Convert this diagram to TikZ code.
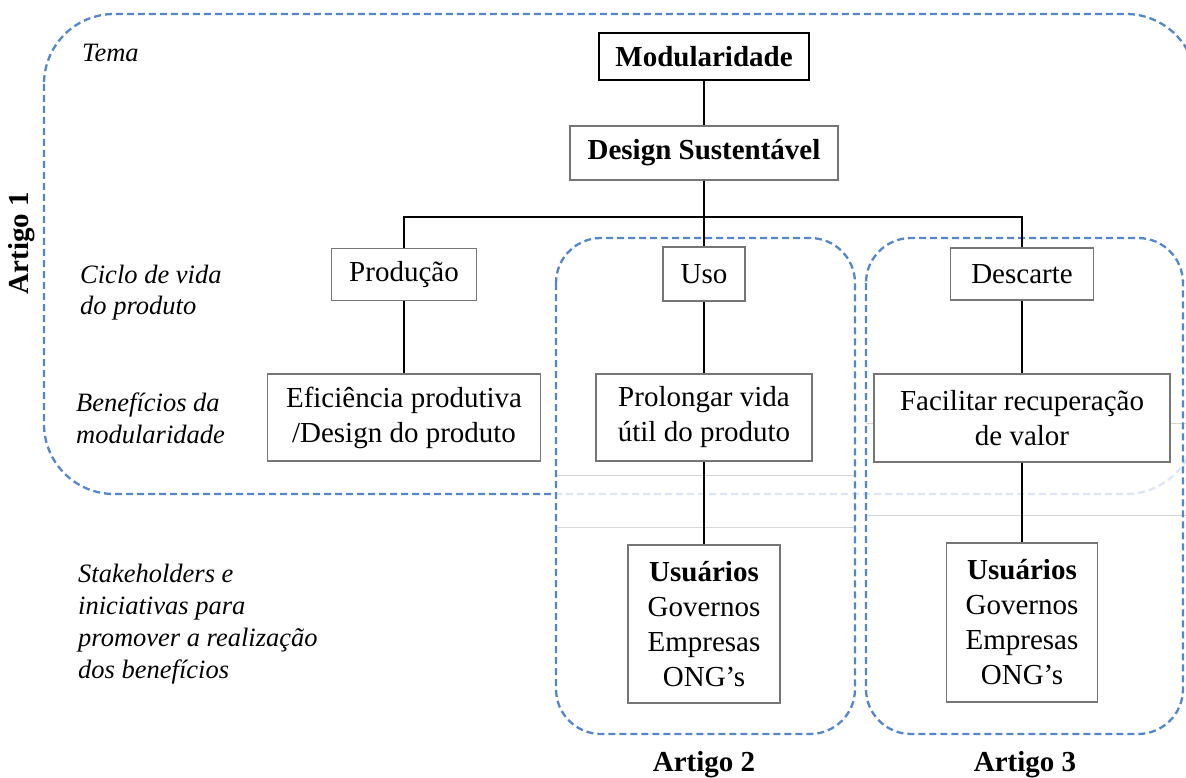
\documentclass[tikz,border=0pt]{standalone}
\usepackage{fontspec}
\setmainfont{Liberation Serif}
\definecolor{artblue}{RGB}{84,134,206}
\definecolor{boxgray}{RGB}{118,118,118}
\definecolor{faintline}{RGB}{214,214,214}
\newcommand\mainsz{\fontsize{29}{35}\selectfont}
\newcommand\sidesz{\fontsize{26.5}{32}\selectfont}
\tikzset{
  artframe/.style={draw=artblue, line width=2.3pt, dash pattern=on 7pt off 4pt},
  card/.style={draw=boxgray, line width=1.3pt, fill=white, align=center,
               inner sep=0pt, font=\mainsz},
  link/.style={draw=black, line width=1.1pt},
  side/.style={anchor=base west, inner sep=0pt, font=\sidesz\itshape},
  artlabel/.style={inner sep=0pt, font=\mainsz\bfseries},
  faint/.style={draw=faintline, line width=1pt},
}
\begin{document}
\begin{tikzpicture}[x=1pt,y=-1pt]
\useasboundingbox (0,0) rectangle (1186,778);

% Artigo 1 frame
\draw[artframe, rounded corners=70pt] (44,14) rectangle (1196,494);
% washed-out band over the lower right of the frame
\fill[white, opacity=0.8] (556,412) rectangle (1200,540);
\draw[faint] (556,475) -- (855,475);
\draw[faint] (556,527) -- (855,527);
\draw[faint] (866,423) -- (1186,423);
\draw[faint] (866,515) -- (1186,515);

% Artigo 2 and Artigo 3 frames
\draw[artframe, rounded corners=45pt] (556,238) rectangle (855,734);
\draw[artframe, rounded corners=45pt] (866,238) rectangle (1183,734);

% row labels
\node[side] (tema) at (82,62) {Tema};
\node[side] (ciclo) at (80,283) {\begin{tabular}[t]{@{}l@{}}Ciclo de vida\\do produto\end{tabular}};
\node[side] (benef) at (76,411) {\begin{tabular}[t]{@{}l@{}}Benefícios da\\modularidade\end{tabular}};
\node[side] (stake) at (78,582) {\begin{tabular}[t]{@{}l@{}}Stakeholders e\\iniciativas para\\promover a realização\\dos benefícios\end{tabular}};

% article labels
\node[artlabel, rotate=90] (art1) at (22,243) {Artigo 1};
\node[artlabel, anchor=base] (art2) at (704,771) {Artigo 2};
\node[artlabel, anchor=base] (art3) at (1025,771) {Artigo 3};

% boxes
\node[card, draw=black, line width=1.6pt, minimum width=210pt, minimum height=47pt] (mod) at (704,56.5) {\textbf{Modularidade}};
\node[card, minimum width=268pt, minimum height=54pt] (design) at (704,153) {\textbf{Design Sustentável}};
\node[card, minimum width=145pt, minimum height=52pt] (prod) at (404,274.5) {Produção};
\node[card, minimum width=82pt, minimum height=54pt] (uso) at (704,274) {Uso};
\node[card, minimum width=143pt, minimum height=52pt] (desc) at (1022,274) {Descarte};
\node[card, minimum width=273pt, minimum height=87pt] (efic) at (404,417.5) {Eficiência produtiva\\/Design do produto};
\node[card, minimum width=216pt, minimum height=87pt] (prol) at (704,417.5) {Prolongar vida\\útil do produto};
\node[card, minimum width=296pt, minimum height=88pt] (facil) at (1022,418) {Facilitar recuperação\\de valor};
\node[card, minimum width=152pt, minimum height=158pt] (usu2) at (704,624) {\textbf{Usuários}\\Governos\\Empresas\\ONG’s};
\node[card, minimum width=151pt, minimum height=159pt] (usu3) at (1022,622.5) {\textbf{Usuários}\\Governos\\Empresas\\ONG’s};

% connectors
\coordinate (bus) at (704,217);
\draw[link] (mod.south) -- (design.north);
\draw[link] (design.south) -- (uso.north);
\draw[link] (prod.north) |- (bus);
\draw[link] (desc.north) |- (bus);
\draw[link] (prod.south) -- (efic.north);
\draw[link] (uso.south) -- (prol.north);
\draw[link] (desc.south) -- (facil.north);
\draw[link] (prol.south) -- (usu2.north);
\draw[link] (facil.south) -- (usu3.north);
\end{tikzpicture}
\end{document}
